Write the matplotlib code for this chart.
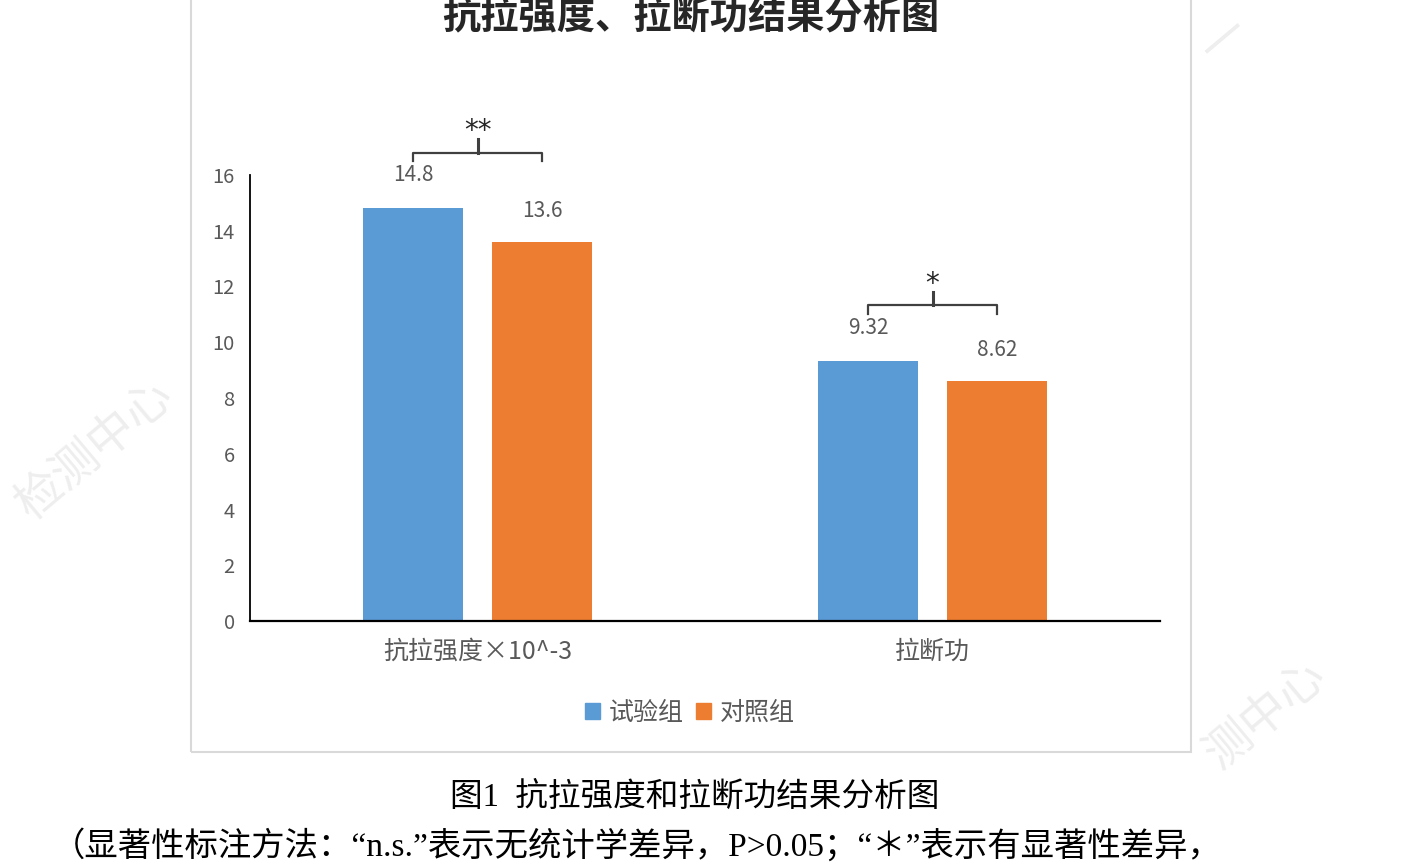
import matplotlib
matplotlib.use("Agg")
import matplotlib.pyplot as plt
from matplotlib.patches import Rectangle, Patch
import numpy as np

plt.rcParams['font.family'] = ['Noto Sans CJK SC', 'DejaVu Sans']

# ---- data ----
categories = ['抗拉强度×10^-3', '拉断功']
series_names = ['试验组', '对照组']
test_values = [14.8, 9.32]
control_values = [13.6, 8.62]
sig_marks = ['**', '*']
y_ticks = [0, 2, 4, 6, 8, 10, 12, 14, 16]

title = '抗拉强度、拉断功结果分析图'
caption = '图1  抗拉强度和拉断功结果分析图'
note = '（显著性标注方法：“n.s.”表示无统计学差异，P>0.05；“＊”表示有显著性差异，'

BLUE = '#5B9BD5'
ORANGE = '#ED7D31'
GRAY = '#595959'

W, H = 1406, 865
fig = plt.figure(figsize=(W / 100, H / 100), dpi=100)

def fx(px):
    return px / W

def fy(py):
    return 1 - py / H

# chart box border
fig.patches.append(Rectangle((fx(191), fy(752)), fx(1191) - fx(191), fy(-20) - fy(752),
                             transform=fig.transFigure, fill=False, edgecolor='#d9d9d9',
                             linewidth=1.5, zorder=0))

# faint watermarks
wm = dict(color='#eeeeee', fontsize=34, rotation=40, ha='center', va='center', zorder=0)
fig.text(fx(95), fy(450), '检测中心', **wm)
fig.text(fx(1265), fy(715), '测中心', **wm)
fig.text(fx(1225), fy(40), '一', **wm)

ax = fig.add_axes([fx(250), fy(621), fx(1160) - fx(250), fy(175) - fy(621)])
x = np.arange(len(categories))
bw = 0.22
off = 0.1418
ax.bar(x - off, test_values, bw, color=BLUE, label=series_names[0])
ax.bar(x + off, control_values, bw, color=ORANGE, label=series_names[1])

ax.set_xlim(-0.5, len(categories) - 0.5)
ax.set_ylim(0, 16)
ax.set_yticks(y_ticks)
ax.set_xticks(x)
ax.set_xticklabels(categories)
ax.tick_params(axis='y', length=0, pad=11, labelsize=14.5, labelcolor=GRAY)
ax.tick_params(axis='x', length=0, pad=13, labelsize=18, labelcolor=GRAY)
for s in ['top', 'right']:
    ax.spines[s].set_visible(False)
ax.spines['left'].set_color('black')
ax.spines['bottom'].set_color('black')
ax.spines['left'].set_linewidth(1.3)
ax.spines['bottom'].set_linewidth(1.6)

for xi, v in zip(x - off, test_values):
    ax.annotate(f'{v:g}', (xi, v), xytext=(0, 33), textcoords='offset pixels',
                ha='center', va='center', fontsize=15, color=GRAY)
for xi, v in zip(x + off, control_values):
    ax.annotate(f'{v:g}', (xi, v), xytext=(0, 31), textcoords='offset pixels',
                ha='center', va='center', fontsize=15, color=GRAY)

# significance brackets
for i, mark in enumerate(sig_marks):
    top = max(test_values[i], control_values[i]) + 2.0
    x1, x2 = x[i] - off, x[i] + off
    ax.plot([x1, x1, x2, x2], [top - 0.3, top, top, top - 0.3], color='#404040',
            lw=1.6, clip_on=False)
    ax.plot([x[i], x[i]], [top, top + 0.5], color='#404040', lw=2.2, clip_on=False)
    ax.text(x[i], top + 0.78, mark, ha='center', va='center', fontsize=20,
            color='#262626', family='DejaVu Sans', clip_on=False)

# title
fig.text(fx(691), fy(17), title, ha='center', va='center', fontsize=27.5,
         fontweight='bold', color='#262626')

# legend
handles = [Patch(color=BLUE), Patch(color=ORANGE)]
fig.legend(handles, series_names, loc='center', bbox_to_anchor=(fx(690), fy(713)),
           ncol=2, frameon=False, fontsize=18, handlelength=0.6, handleheight=0.6,
           handletextpad=0.35, columnspacing=0.5, labelcolor=GRAY)

# caption and note
serif = ['Liberation Serif', 'Noto Sans CJK SC']
fig.text(fx(695), fy(797), caption, ha='center', va='center', fontsize=23.5,
         family=serif, color='black')
fig.text(fx(52), fy(846), note, ha='left', va='center', fontsize=24,
         family=serif, color='black')

fig.savefig('out.png', dpi=100)
